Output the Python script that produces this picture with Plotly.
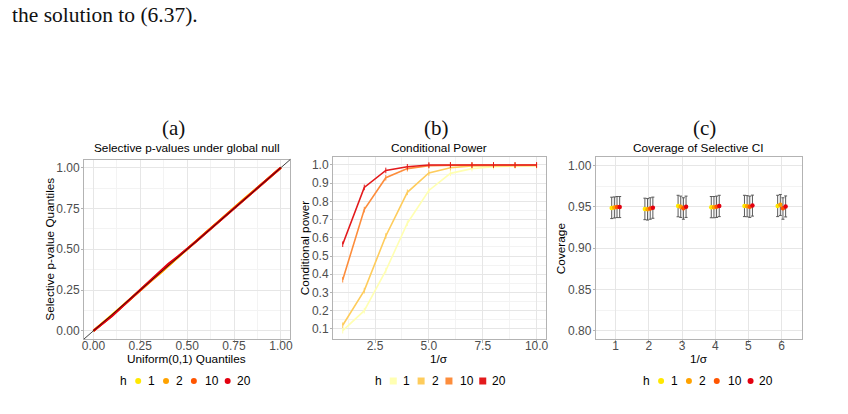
import plotly.graph_objects as go

W, H = 848, 414

# ---------------- data ----------------
h_labels = ["1", "2", "10", "20"]

# (a) QQ plot of selective p-values
qq_unif = [0.00, 0.05, 0.10, 0.15, 0.20, 0.25, 0.30, 0.35, 0.40, 0.45, 0.50,
           0.55, 0.60, 0.65, 0.70, 0.75, 0.80, 0.85, 0.90, 0.95, 1.00]
qq_h1 = [0.000, 0.048, 0.097, 0.148, 0.199, 0.251, 0.301, 0.346, 0.398, 0.452, 0.505,
         0.556, 0.604, 0.652, 0.703, 0.757, 0.806, 0.853, 0.902, 0.951, 1.000]
qq_h2 = [0.000, 0.047, 0.096, 0.147, 0.198, 0.249, 0.299, 0.349, 0.401, 0.451, 0.502,
         0.553, 0.602, 0.651, 0.702, 0.754, 0.803, 0.852, 0.901, 0.950, 1.000]
qq_h10 = [0.000, 0.046, 0.095, 0.146, 0.198, 0.250, 0.300, 0.351, 0.404, 0.452, 0.501,
          0.551, 0.601, 0.650, 0.701, 0.752, 0.802, 0.851, 0.900, 0.950, 1.000]
qq_h20 = [0.000, 0.045, 0.092, 0.145, 0.197, 0.250, 0.301, 0.353, 0.410, 0.455, 0.500,
          0.550, 0.600, 0.650, 0.700, 0.751, 0.801, 0.850, 0.899, 0.949, 1.000]

# (b) conditional power
inv_sigma = [1, 2, 3, 4, 5, 6, 7, 8, 9, 10]
power_h1 = [0.090, 0.200, 0.420, 0.680, 0.860, 0.954, 0.980, 0.990, 0.995, 0.995]
power_h2 = [0.120, 0.310, 0.610, 0.850, 0.956, 0.985, 0.995, 0.997, 0.997, 0.997]
power_h10 = [0.370, 0.755, 0.930, 0.980, 0.996, 1.000, 1.000, 1.000, 1.000, 1.000]
power_h20 = [0.565, 0.877, 0.970, 0.990, 1.000, 1.000, 1.000, 1.000, 1.000, 1.000]

# (c) coverage of selective CI
cov_sigma = ["1", "2", "3", "4", "5", "6"]
cov_h1 = [0.9487, 0.9475, 0.9510, 0.9495, 0.9510, 0.9510]
cov_h2 = [0.9492, 0.9470, 0.9500, 0.9495, 0.9508, 0.9524]
cov_h10 = [0.9497, 0.9480, 0.9482, 0.9500, 0.9500, 0.9482]
cov_h20 = [0.9497, 0.9490, 0.9500, 0.9510, 0.9515, 0.9505]
cov_lo_h1 = [0.9358, 0.9345, 0.9380, 0.9368, 0.9382, 0.9382]
cov_hi_h1 = [0.9617, 0.9605, 0.9640, 0.9625, 0.9640, 0.9640]
cov_lo_h2 = [0.9365, 0.9340, 0.9372, 0.9368, 0.9380, 0.9396]
cov_hi_h2 = [0.9620, 0.9600, 0.9630, 0.9625, 0.9636, 0.9650]
cov_lo_h10 = [0.9370, 0.9350, 0.9350, 0.9372, 0.9372, 0.9350]
cov_hi_h10 = [0.9625, 0.9610, 0.9610, 0.9630, 0.9630, 0.9610]
cov_lo_h20 = [0.9370, 0.9362, 0.9372, 0.9382, 0.9388, 0.9378]
cov_hi_h20 = [0.9625, 0.9618, 0.9630, 0.9640, 0.9642, 0.9632]

# ---------------- style ----------------
pt_colors = ["#FFE800", "#FFA200", "#FF5500", "#E3000F"]
ylorrd = ["#FFFFB2", "#FECC5C", "#FD8D3C", "#E31A1C"]
SANS = "Liberation Sans, Arial, sans-serif"
SERIF = "Liberation Serif, Times New Roman, serif"
TICKC = "#4D4D4D"
GRID = "#E6E6E6"
MINOR = "#F3F3F3"
BORDER = "#B3B3B3"
TICKSIZE = 12


def fx(px):
    return px / W


def fy(py):
    return 1 - py / H


fig = go.Figure()

# (a)
for ys, c in zip([qq_h1, qq_h2, qq_h10, qq_h20], pt_colors):
    fig.add_trace(go.Scatter(x=qq_unif, y=ys, mode="lines",
                             line=dict(color=c, width=2.2),
                             xaxis="x", yaxis="y", showlegend=False))

# (b)
for ys, c in zip([power_h1, power_h2, power_h10, power_h20], ylorrd):
    fig.add_trace(go.Scatter(x=inv_sigma, y=ys, mode="lines+markers",
                             line=dict(color=c, width=1.6),
                             marker=dict(symbol="line-ns", size=4,
                                         line=dict(color=c, width=1)),
                             xaxis="x2", yaxis="y2", showlegend=False))

# (c)
dodge = [-0.12, -0.04, 0.04, 0.12]
cov_sets = [(cov_h1, cov_lo_h1, cov_hi_h1), (cov_h2, cov_lo_h2, cov_hi_h2),
            (cov_h10, cov_lo_h10, cov_hi_h10), (cov_h20, cov_lo_h20, cov_hi_h20)]
for (ys, lo, hi), c, d in zip(cov_sets, pt_colors, dodge):
    xs = [i + 1 + d for i in range(len(cov_sigma))]
    fig.add_trace(go.Scatter(
        x=xs, y=ys, mode="markers",
        marker=dict(color=c, size=4.5, line=dict(width=0)),
        error_y=dict(type="data", symmetric=False,
                     array=[h - v for h, v in zip(hi, ys)],
                     arrayminus=[v - l for v, l in zip(ys, lo)],
                     color="#5A5A5A", thickness=1, width=1.5),
        xaxis="x3", yaxis="y3", showlegend=False))


def axis(domain, rng, is_x, **kw):
    d = dict(domain=domain, range=rng, showline=True, mirror=True,
             linecolor=BORDER, linewidth=1, ticks="outside",
             ticklen=(3 if is_x else 2),
             tickcolor=BORDER, tickwidth=1, showgrid=True, gridcolor=GRID,
             gridwidth=1, zeroline=False,
             ticklabelstandoff=(-7 if is_x else -1),
             tickfont=dict(family=SANS, size=TICKSIZE, color=TICKC))
    d.update(kw)
    return d


fig.update_layout(
    width=W, height=H, margin=dict(l=0, r=0, t=0, b=0),
    paper_bgcolor="white", plot_bgcolor="white",
    xaxis=axis([fx(82.5), fx(290)], [-0.05, 1.05], True, anchor="y",
               tick0=0, dtick=0.25, tickformat=".2f",
               minor=dict(dtick=0.125, showgrid=True, gridcolor=MINOR, gridwidth=1)),
    yaxis=axis([fy(339), fy(159.5)], [-0.05, 1.05], False, anchor="x",
               tick0=0, dtick=0.25, tickformat=".2f",
               minor=dict(dtick=0.125, showgrid=True, gridcolor=MINOR, gridwidth=1)),
    xaxis2=axis([fx(333), fx(547.5)], [0.55, 10.45], True, anchor="y2",
                tick0=0, dtick=2.5, tickformat=".1f",
                minor=dict(dtick=1.25, showgrid=True, gridcolor=MINOR, gridwidth=1)),
    yaxis2=axis([fy(339), fy(156.7)], [0.0445, 1.0455], False, anchor="x2",
                tick0=0, dtick=0.1, tickformat=".1f",
                minor=dict(dtick=0.05, showgrid=True, gridcolor=MINOR, gridwidth=1)),
    xaxis3=axis([fx(597.3), fx(804.3)], [0.4, 6.6], True, anchor="y3",
                tickvals=[1, 2, 3, 4, 5, 6], ticktext=cov_sigma),
    yaxis3=axis([fy(339), fy(157.3)], [0.79, 1.01], False, anchor="x3",
                tick0=0, dtick=0.05, tickformat=".2f",
                minor=dict(dtick=0.025, showgrid=True, gridcolor=MINOR, gridwidth=1)),
)

# diagonal reference line in (a)
fig.add_shape(type="line", xref="x domain", yref="y domain", x0=0, y0=0, x1=1, y1=1,
              line=dict(color="#111111", width=0.8))

ann = []


def text(x, y, s, size, family=SANS, color="black", angle=0, xanchor="center"):
    ann.append(dict(x=fx(x), y=fy(y), xref="paper", yref="paper", text=s,
                    showarrow=False, xanchor=xanchor, yanchor="middle",
                    textangle=angle, font=dict(family=family, size=size, color=color)))


# page text
text(8, 15, "the solution to (6.37).", 21.5, family=SERIF, color="#111111", xanchor="left")

# subfigure labels and titles
text(173, 128, "(a)", 21, family=SERIF, color="#111111")
text(436.7, 128, "(b)", 21, family=SERIF, color="#111111")
text(706.7, 128, "(c)", 21, family=SERIF, color="#111111")
text(186, 148, "Selective p-values under global null", 11.8)
text(440, 148, "Conditional Power", 11.8)
text(700.8, 148, "Coverage of Selective CI", 11.8)

# axis titles
text(48, 249, "Selective p-value Quantiles", 11.8, angle=-90)
text(305, 248, "Conditional power", 11.8, angle=-90)
text(562.5, 248, "Coverage", 11.8, angle=-90)
text(186, 358.5, "Uniform(0,1) Quantiles", 11.8)
text(440, 358.5, "1/σ", 11.8)
text(700.8, 358.5, "1/σ", 11.8)

# legends (drawn manually, ggplot-like compact layout)
LEG_Y = 381
offs_key = [15, 43, 71, 105]
offs_lab = [28, 57, 89, 121]


def legend(left, kind, colors):
    text(left, LEG_Y, "h", 12)
    for ok, ol, c, lab in zip(offs_key, offs_lab, colors, h_labels):
        r = 3 if kind == "circle" else 3.5
        fig.add_shape(type=kind, xref="paper", yref="paper",
                      xsizemode="pixel", ysizemode="pixel",
                      xanchor=fx(left + ok), yanchor=fy(LEG_Y),
                      x0=-r, x1=r, y0=-r, y1=r,
                      fillcolor=c, line=dict(width=0))
        text(left + ol, LEG_Y, lab, 12)


legend(122, "circle", pt_colors)
legend(378.6, "rect", ylorrd)
legend(648, "circle", pt_colors)

fig.update_layout(annotations=ann)
fig.write_html("out.html")
